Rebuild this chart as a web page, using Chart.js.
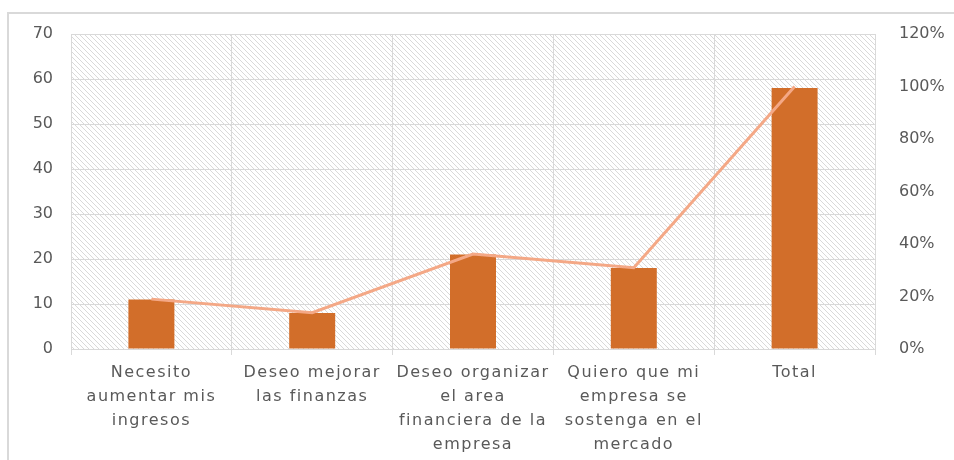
<!DOCTYPE html>
<html>
<head>
<meta charset="utf-8">
<script src="https://cdn.jsdelivr.net/npm/chart.js@4/dist/chart.umd.min.js"></script>
<style>
  html, body { margin: 0; padding: 0; background: #fff; }
  #wrap { width: 954px; height: 460px; position: relative; }
</style>
</head>
<body>
<div id="wrap"><canvas id="chart" width="954" height="460"></canvas></div>
<script>
// data
const categories = [
    ['Necesito', 'aumentar mis', 'ingresos'],
    ['Deseo mejorar', 'las finanzas'],
    ['Deseo organizar', 'el area', 'financiera de la', 'empresa'],
    ['Quiero que mi', 'empresa se', 'sostenga en el', 'mercado'],
    ['Total']
];
const counts = [11, 8, 21, 18, 58];
const shares = [0.19, 0.138, 0.362, 0.31, 1.0];

const textColor = '#595959';
const gridColor = '#d9d9d9';

// diagonal hatch used behind the plot (crisp 1px steps)
function makeHatch() {
    const c = document.createElement('canvas');
    c.width = 5; c.height = 5;
    const g = c.getContext('2d');
    g.fillStyle = '#ffffff';
    g.fillRect(0, 0, 5, 5);
    g.fillStyle = '#d9d9d9';
    for (let i = 0; i < 5; i++) {
        g.fillRect(i, i, 1, 1);
    }
    return g.createPattern(c, 'repeat');
}

const backdrop = {
    id: 'backdrop',
    beforeDraw(chart) {
        const ctx = chart.ctx;
        const a = chart.chartArea;
        ctx.save();
        // outer frame
        ctx.strokeStyle = gridColor;
        ctx.lineWidth = 2;
        ctx.beginPath();
        ctx.moveTo(8, 470);
        ctx.lineTo(8, 13);
        ctx.lineTo(960, 13);
        ctx.stroke();
        // hatched plot area
        ctx.fillStyle = makeHatch();
        ctx.fillRect(a.left, a.top, a.right - a.left, a.bottom - a.top);
        ctx.restore();
    }
};

const ctx = document.getElementById('chart').getContext('2d');
const chart = new Chart(ctx, {
    type: 'bar',
    data: {
        labels: categories,
        datasets: [{
            type: 'line',
            data: shares,
            yAxisID: 'y2',
            borderColor: '#f4a886',
            borderWidth: 3,
            pointRadius: 0,
            tension: 0,
            order: 0
        }, {
            type: 'bar',
            data: counts,
            yAxisID: 'y',
            backgroundColor: '#d26e2a',
            categoryPercentage: 1,
            barPercentage: 0.286,
            order: 1
        }]
    },
    options: {
        responsive: false,
        animation: false,
        layout: { padding: { top: 34, left: 0, right: 0, bottom: 0 } },
        plugins: { legend: { display: false }, tooltip: { enabled: false } },
        scales: {
            x: {
                offset: true,
                grid: { color: gridColor, offset: true, tickLength: 6, lineWidth: 1 },
                border: { color: gridColor },
                ticks: {
                    color: textColor,
                    font: { family: 'DejaVu Sans', size: 16, lineHeight: 1.5 },
                    padding: 6,
                    maxRotation: 0,
                    autoSkip: false
                },
                afterFit(scale) { scale.height = 111; }
            },
            y: {
                position: 'left',
                min: 0, max: 70,
                ticks: {
                    stepSize: 10,
                    color: textColor,
                    font: { family: 'DejaVu Sans', size: 16 },
                    padding: 18
                },
                grid: { color: gridColor, drawTicks: false },
                border: { display: false },
                afterFit(scale) { scale.width = 71; }
            },
            y2: {
                position: 'right',
                min: 0, max: 1.2,
                ticks: {
                    stepSize: 0.2,
                    color: textColor,
                    font: { family: 'DejaVu Sans', size: 16 },
                    padding: 24,
                    callback: v => Math.round(v * 100) + '%'
                },
                grid: { display: false, drawTicks: false },
                border: { display: false },
                afterFit(scale) { scale.width = 79; }
            }
        }
    },
    plugins: [backdrop]
});

// category labels in the picture are set wider than the axis numbers
const xScale = chart.scales.x;
const baseDrawLabels = xScale.drawLabels;
xScale.drawLabels = function(area) {
    const c = this.ctx;
    c.letterSpacing = '1.5px';
    baseDrawLabels.call(this, area);
    c.letterSpacing = '0px';
};
chart.draw();
</script>
</body>
</html>
